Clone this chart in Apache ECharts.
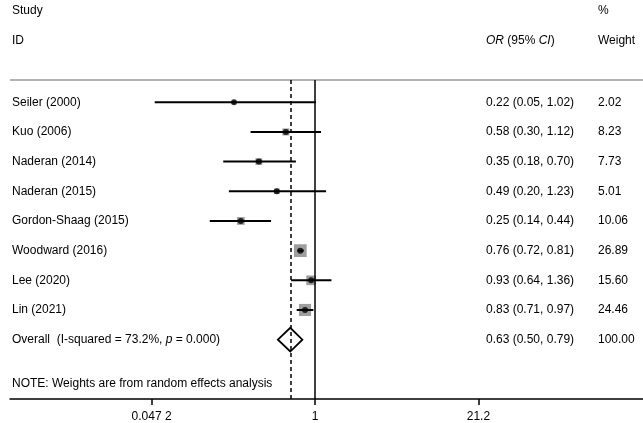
<!DOCTYPE html>
<html>
<head>
<meta charset="utf-8">
<script src="https://cdn.jsdelivr.net/npm/echarts@6/dist/echarts.min.js"></script>
<style>
html,body{margin:0;padding:0;background:#fff;}
#chart{width:643px;height:423px;}
</style>
</head>
<body>
<div id="chart"></div>
<script>
// ---- data ----
const studies = ['Seiler (2000)', 'Kuo (2006)', 'Naderan (2014)', 'Naderan (2015)', 'Gordon-Shaag (2015)', 'Woodward (2016)', 'Lee (2020)', 'Lin (2021)'];
const orValues = [0.22, 0.58, 0.35, 0.49, 0.25, 0.76, 0.93, 0.83];
const ciLower  = [0.05, 0.30, 0.18, 0.20, 0.14, 0.72, 0.64, 0.71];
const ciUpper  = [1.02, 1.12, 0.70, 1.23, 0.44, 0.81, 1.36, 0.97];
const weights  = [2.02, 8.23, 7.73, 5.01, 10.06, 26.89, 15.60, 24.46];
const overall = { or: 0.63, lo: 0.50, hi: 0.79, weight: 100.00, iSquared: '73.2%', p: '0.000' };
const tickValues = [0.0472, 1, 21.2];
const tickLabels = ['0.047 2', '1', '21.2'];
const noteText = 'NOTE: Weights are from random effects analysis';

// ---- helpers ----
const FAMILY = '"Liberation Sans", Arial, sans-serif';
const FONT = '12px ' + FAMILY;
const TXT = '#000';
const ln = Math.log;
const rows = studies.map((s, i) => i + 1);
const overallRow = studies.length + 1;
const noteRow = overallRow + 1.5;
const fmt = v => v.toFixed(2);

const studyData = studies.map((s, i) => [ln(orValues[i]), rows[i], ln(ciLower[i]), ln(ciUpper[i]), weights[i]]);
const textData = studies.map((s, i) => [0, rows[i]]).concat([[0, overallRow], [0, noteRow]]);

const chart = echarts.init(document.getElementById('chart'), null, { renderer: 'canvas' });

const option = {
  animation: false,
  backgroundColor: '#fff',
  grid: { left: 10, right: 0, top: 80, bottom: 23 },
  xAxis: {
    type: 'value',
    min: -5.70,
    max: 6.13,
    splitLine: { show: false },
    axisLine: { show: true, onZero: false, lineStyle: { color: '#000', width: 1.5 } },
    axisTick: { show: true, inside: false, customValues: tickValues.map(ln), length: 6, lineStyle: { color: '#000', width: 1.5 } },
    axisLabel: {
      show: true,
      customValues: tickValues.map(ln),
      margin: 12,
      color: TXT,
      fontSize: 12,
      fontFamily: FAMILY,
      formatter: function (v) {
        let best = 0, bd = Infinity;
        tickValues.forEach((t, i) => { const d = Math.abs(ln(t) - v); if (d < bd) { bd = d; best = i; } });
        return tickLabels[best];
      }
    }
  },
  yAxis: {
    type: 'value',
    inverse: true,
    min: 0.25,
    max: 11,
    show: false
  },
  graphic: [
    { type: 'text', left: 12, top: 5, style: { text: 'Study', font: FONT, fill: TXT } },
    { type: 'text', left: 12, top: 35, style: { text: 'ID', font: FONT, fill: TXT } },
    { type: 'text', left: 598, top: 5, style: { text: '%', font: FONT, fill: TXT } },
    { type: 'text', left: 598, top: 35, style: { text: 'Weight', font: FONT, fill: TXT } },
    { type: 'text', left: 486, top: 35, style: {
        text: '{i|OR} (95% {i|CI})', font: FONT, fill: TXT,
        rich: { i: { fontStyle: 'italic', fontSize: 12, fontFamily: FAMILY, fill: TXT } }
      } }
  ],
  series: [
    // reference lines
    {
      type: 'line',
      data: [],
      z: 1,
      markLine: {
        silent: true,
        symbol: ['none', 'none'],
        label: { show: false },
        data: [
          { yAxis: 0.25, lineStyle: { color: '#9a9a9a', width: 1.5, type: 'solid' } },
          { xAxis: 0, lineStyle: { color: '#000', width: 1.5, type: 'solid' } },
          { xAxis: ln(overall.or), lineStyle: { color: '#000', width: 1.5, type: [4, 3] } }
        ]
      }
    },
    // weight squares
    {
      type: 'custom',
      z: 2,
      data: studyData,
      renderItem: function (params, api) {
        const c = api.coord([api.value(0), api.value(1)]);
        const side = 2.45 * Math.sqrt(api.value(4));
        return { type: 'rect', shape: { x: c[0] - side / 2, y: c[1] - side / 2, width: side, height: side }, style: { fill: '#9e9e9e' } };
      }
    },
    // CI lines
    {
      type: 'custom',
      z: 3,
      data: studyData,
      renderItem: function (params, api) {
        const a = api.coord([api.value(2), api.value(1)]);
        const b = api.coord([api.value(3), api.value(1)]);
        return { type: 'line', shape: { x1: a[0], y1: a[1], x2: b[0], y2: b[1] }, style: { stroke: '#000', lineWidth: 2 } };
      }
    },
    // point estimates
    {
      type: 'scatter',
      z: 4,
      data: studyData.map(d => [d[0], d[1]]),
      symbol: 'circle',
      symbolSize: 6,
      itemStyle: { color: '#000' },
      silent: true
    },
    // overall diamond
    {
      type: 'custom',
      z: 4,
      data: [[ln(overall.or), overallRow, ln(overall.lo), ln(overall.hi)]],
      renderItem: function (params, api) {
        const c = api.coord([api.value(0), api.value(1)]);
        const l = api.coord([api.value(2), api.value(1)]);
        const r = api.coord([api.value(3), api.value(1)]);
        const h = api.size([0, 0.4])[1];
        return {
          type: 'polygon',
          shape: { points: [[l[0], c[1]], [c[0], c[1] - h], [r[0], c[1]], [c[0], c[1] + h]] },
          style: { fill: 'rgba(255,255,255,0)', stroke: '#000', lineWidth: 1.8 }
        };
      }
    },
    // row texts
    {
      type: 'custom',
      z: 5,
      data: textData,
      renderItem: function (params, api) {
        const i = params.dataIndex;
        const y = api.coord([0, api.value(1)])[1];
        const base = { font: FONT, fill: TXT, verticalAlign: 'middle' };
        if (i < studies.length) {
          return {
            type: 'group',
            children: [
              { type: 'text', style: Object.assign({ x: 12, y: y, text: studies[i] }, base) },
              { type: 'text', style: Object.assign({ x: 486, y: y, text: fmt(orValues[i]) + ' (' + fmt(ciLower[i]) + ', ' + fmt(ciUpper[i]) + ')' }, base) },
              { type: 'text', style: Object.assign({ x: 598, y: y, text: fmt(weights[i]) }, base) }
            ]
          };
        } else if (i === studies.length) {
          return {
            type: 'group',
            children: [
              { type: 'text', style: Object.assign({ x: 12, y: y,
                  text: 'Overall  (I-squared = ' + overall.iSquared + ', {i|p} = ' + overall.p + ')',
                  rich: { i: { fontStyle: 'italic', fontSize: 12, fontFamily: FAMILY, fill: TXT } } }, base) },
              { type: 'text', style: Object.assign({ x: 486, y: y, text: fmt(overall.or) + ' (' + fmt(overall.lo) + ', ' + fmt(overall.hi) + ')' }, base) },
              { type: 'text', style: Object.assign({ x: 598, y: y, text: fmt(overall.weight) }, base) }
            ]
          };
        }
        return { type: 'text', style: Object.assign({ x: 12, y: y, text: noteText }, base) };
      }
    }
  ]
};
chart.setOption(option);
</script>
</body>
</html>
